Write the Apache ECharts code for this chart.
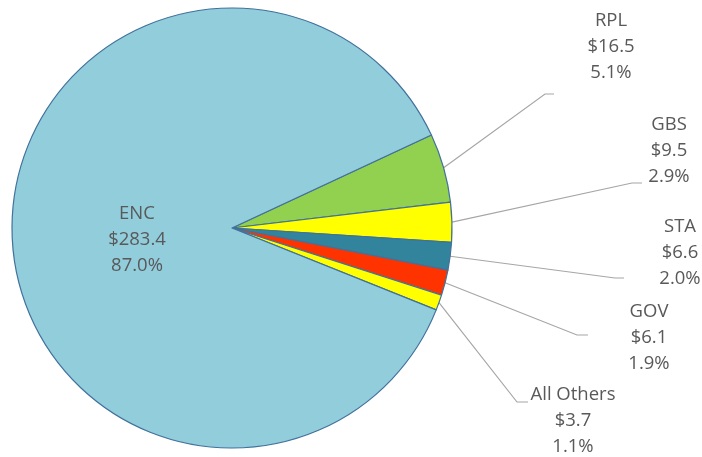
<!DOCTYPE html>
<html>
<head>
<meta charset="utf-8">
<script src="https://cdn.jsdelivr.net/npm/echarts@6/dist/echarts.min.js"></script>
<style>html,body{margin:0;padding:0;background:#fff}#c{width:702px;height:457px}</style>
</head>
<body>
<div id="c"></div>
<script>
const categories = ['RPL', 'GBS', 'STA', 'GOV', 'All Others', 'ENC'];
const values = [16.5, 9.5, 6.6, 6.1, 3.7, 283.4];
const colors = ['#92D050', '#FFFF00', '#31849B', '#FF3300', '#FFFF00', '#92CDDC'];

const total = values.reduce((a, b) => a + b, 0);

// label placement (centre of label block) and leader elbow points
const labelPos = [
  { x: 611, y: 47, elbow: [[545, 94], [554, 94]] },
  { x: 669, y: 151, elbow: [[632, 183], [642, 183]] },
  { x: 680, y: 253, elbow: [[615, 278], [624, 278]] },
  { x: 649, y: 338, elbow: [[577, 335], [588, 335]] },
  { x: 573, y: 421, elbow: [[517, 402], [528, 402]] },
  { x: 137, y: 240, elbow: null }
];

const chart = echarts.init(document.getElementById('c'), null, { renderer: 'canvas' });
const cx = 232, cy = 228, R = 220, startAngle = 25;

chart.setOption({
  animation: false,
  series: [{
    type: 'pie',
    center: [cx, cy],
    radius: [0, R],
    startAngle: startAngle,
    clockwise: true,
    avoidLabelOverlap: false,
    data: categories.map((n, i) => ({
      name: n,
      value: values[i],
      itemStyle: { color: colors[i] },
      label: i === 5 ? { position: 'inside' } : undefined,
      labelLine: { show: i !== 5 }
    })),
    itemStyle: { borderColor: '#41719C', borderWidth: 1.2 },
    label: {
      show: true,
      position: 'outside',
      color: '#595959',
      fontFamily: 'Open Sans',
      fontSize: 18.5,
      lineHeight: 26,
      align: 'center',
      formatter: p => p.name + '\n$' + p.value.toFixed(1) + '\n' + (p.value / total * 100).toFixed(1) + '%'
    },
    labelLine: {
      show: true,
      length: 20,
      length2: 10,
      lineStyle: { color: '#A6A6A6', width: 1.2 }
    },
    labelLayout: function (params) {
      const i = params.dataIndex;
      const lp = labelPos[i];
      const out = { x: lp.x, y: lp.y, align: 'center', verticalAlign: 'middle' };
      if (lp.elbow) {
        // start point on slice edge at mid-angle
        let acc = 0;
        for (let k = 0; k < i; k++) acc += values[k];
        const mid = startAngle - (acc + values[i] / 2) / total * 360;
        const rad = mid * Math.PI / 180;
        const sx = cx + R * Math.cos(rad), sy = cy - R * Math.sin(rad);
        out.labelLinePoints = [[sx, sy], lp.elbow[0], lp.elbow[1]];
      }
      return out;
    }
  }]
});
</script>
</body>
</html>
